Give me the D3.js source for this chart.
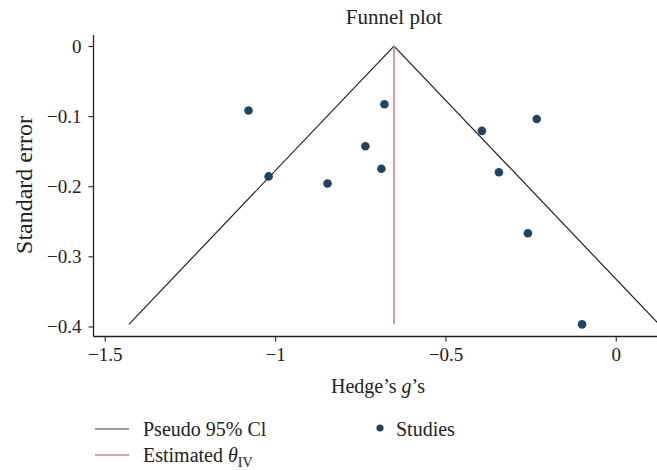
<!DOCTYPE html>
<html lang="en">
<head>
    <meta charset="UTF-8">
    <title>Funnel plot</title>
    <script src="https://cdnjs.cloudflare.com/ajax/libs/d3/7.8.5/d3.min.js"></script>
    <style>
        * { margin: 0; padding: 0; box-sizing: border-box; }
        body { background: white; }
        svg { display: block; font-family: 'Liberation Serif', 'DejaVu Serif', serif; fill: #222; }
    </style>
</head>
<body>
    <div id="chart"></div>

    <script>
        // Hedge's g and standard error (plotted negative) for each study
        const hedgesG = [-1.078, -1.019, -0.846, -0.679, -0.735, -0.688, -0.393, -0.232, -0.343, -0.258, -0.099];
        const stdError = [-0.092, -0.186, -0.196, -0.083, -0.143, -0.175, -0.121, -0.104, -0.180, -0.267, -0.397];

        const thetaIV = -0.651;
        const maxSE = 0.397;

        const xTicks = [-1.5, -1, -0.5, 0];
        const yTicks = [0, -0.1, -0.2, -0.3, -0.4];

        const width = 657, height = 470;
        const plotL = 93.5, plotR = 657, plotT = 35, plotB = 336.5;

        const svg = d3.select('#chart')
            .append('svg')
            .attr('width', width)
            .attr('height', height);

        const x = d3.scaleLinear().domain([-1.533, 0.121]).range([plotL, plotR]);
        const y = d3.scaleLinear().domain([0.0157, -0.4143]).range([plotT, plotB]);

        const fmt = d => d === 0 ? '0' : String(d).replace('-', '\u2212');

        // axes
        const xAxis = svg.append('g')
            .attr('transform', `translate(0,${plotB})`)
            .call(d3.axisBottom(x).tickValues(xTicks).tickFormat(fmt).tickSize(5).tickPadding(6));
        const yAxis = svg.append('g')
            .attr('transform', `translate(${plotL},0)`)
            .call(d3.axisLeft(y).tickValues(yTicks).tickFormat(fmt).tickSize(5).tickPadding(7));

        [xAxis, yAxis].forEach(a => {
            a.attr('font-family', "'Liberation Serif', serif").attr('font-size', 19);
            a.select('.domain').attr('stroke', '#222').attr('stroke-width', 1.3);
            a.selectAll('.tick line').attr('stroke', '#222').attr('stroke-width', 1.1);
            a.selectAll('.tick text').attr('fill', '#222');
        });
        xAxis.select('.domain').attr('d', `M${plotL},0H${plotR}`);
        yAxis.select('.domain').attr('d', `M0,${plotT}V${plotB}`);

        // pseudo 95% CI funnel
        const funnel = [
            [thetaIV - 1.96 * maxSE, -maxSE],
            [thetaIV, 0],
            [thetaIV + 1.96 * maxSE, -maxSE]
        ];
        svg.append('path')
            .attr('d', d3.line().x(d => x(d[0])).y(d => y(d[1]))(funnel))
            .attr('fill', 'none')
            .attr('stroke', '#222')
            .attr('stroke-width', 1.2);

        // estimated theta
        svg.append('line')
            .attr('x1', x(thetaIV)).attr('x2', x(thetaIV))
            .attr('y1', y(0)).attr('y2', y(-maxSE))
            .attr('stroke', '#cf7f9c')
            .attr('stroke-width', 1.6);

        // studies
        svg.selectAll('.study')
            .data(hedgesG)
            .enter()
            .append('circle')
            .attr('class', 'study')
            .attr('cx', d => x(d))
            .attr('cy', (d, i) => y(stdError[i]))
            .attr('r', 4.3)
            .attr('fill', '#1d4568');

        // titles
        svg.append('text')
            .attr('x', 394).attr('y', 24)
            .attr('text-anchor', 'middle')
            .style('font-size', '21px')
            .text('Funnel plot');

        const xl = svg.append('text')
            .attr('x', 378).attr('y', 393)
            .attr('text-anchor', 'middle')
            .style('font-size', '20px');
        xl.append('tspan').text('Hedge\u2019s ');
        xl.append('tspan').style('font-style', 'italic').text('g');
        xl.append('tspan').text('\u2019s');

        svg.append('text')
            .attr('transform', 'translate(32,185) rotate(-90)')
            .attr('text-anchor', 'middle')
            .style('font-size', '24px')
            .text('Standard error');

        // legend
        const lg = svg.append('g').style('font-size', '20px');
        lg.append('line').attr('x1', 95).attr('x2', 129).attr('y1', 429).attr('y2', 429)
            .attr('stroke', '#333').attr('stroke-width', 1.2);
        lg.append('text').attr('x', 143).attr('y', 436).text('Pseudo 95% Cl');

        lg.append('line').attr('x1', 95).attr('x2', 129).attr('y1', 455).attr('y2', 455)
            .attr('stroke', '#cf7f9c').attr('stroke-width', 1.4);
        const et = lg.append('text').attr('x', 143).attr('y', 462);
        et.append('tspan').text('Estimated ');
        et.append('tspan').style('font-style', 'italic').text('\u03b8');
        et.append('tspan').attr('dy', 5).style('font-size', '14px').text('IV');

        lg.append('circle').attr('cx', 380).attr('cy', 428).attr('r', 3.6).attr('fill', '#1d4568');
        lg.append('text').attr('x', 396).attr('y', 436).text('Studies');
    </script>
</body>
</html>
